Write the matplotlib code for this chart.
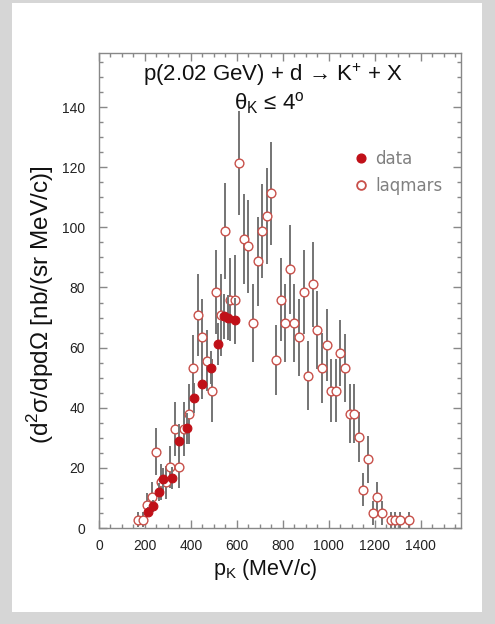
import matplotlib
matplotlib.use("Agg")
import matplotlib.pyplot as plt
from matplotlib.patches import Rectangle
from matplotlib.ticker import MultipleLocator
from matplotlib.lines import Line2D

# laqmars (open circles)
laq_p = [170, 190, 210, 230, 250, 270, 290, 310, 330, 350,
         370, 390, 410, 430, 450, 470, 490, 510, 530, 550,
         570, 590, 610, 630, 650, 670, 690, 710, 730, 750,
         770, 790, 810, 830, 850, 870, 890, 910, 930, 950,
         970, 990, 1010, 1030, 1050, 1070, 1090, 1110, 1130, 1150,
         1170, 1190, 1210, 1230, 1270, 1290, 1310, 1350]
laq_y = [2.7, 2.7, 7.7, 10.2, 25.3, 15.2, 15.2, 20.2, 32.9, 20.2,
         32.9, 38.0, 53.2, 70.9, 63.4, 55.7, 45.6, 78.6, 70.9, 98.8,
         76.0, 76.0, 121.5, 96.2, 93.7, 68.2, 88.7, 98.8, 103.8, 111.3,
         55.8, 76.0, 68.2, 86.0, 68.2, 63.4, 78.6, 50.7, 81.0, 65.8,
         53.2, 60.8, 45.6, 45.6, 58.2, 53.2, 38.0, 38.0, 30.4, 12.7,
         22.9, 5.1, 10.2, 5.1, 2.6, 2.6, 2.6, 2.6]
laq_err = [2.5, 2.5, 4, 5, 7.8, 6, 5.5, 7, 9, 7,
           9, 10, 11, 13.6, 12.8, 10, 10.5, 14, 13.6, 16,
           13.8, 14.7, 17.3, 15, 15.4, 13, 14.7, 15.6, 16, 17,
           11.7, 13.8, 13, 14.7, 13, 12.8, 14, 11.5, 14, 13,
           11.5, 12, 10.5, 10.5, 11, 11.3, 9.8, 9.8, 8.3, 5.5,
           7.8, 4, 5, 4, 2.6, 2.6, 2.6, 2.6]

# measured data (filled circles)
data_p = [212, 236, 262, 280, 317, 349, 381, 413, 449, 486, 519, 545, 560, 590]
data_y = [5.4, 7.3, 11.9, 16.3, 16.7, 29.1, 33.1, 43.2, 47.9, 53.3, 61.2, 70.5, 70.0, 69.1]
data_err = [1.5, 2, 3, 3.5, 3.6, 5.5, 5, 5, 5, 5.5, 7, 7.5, 7.5, 7.5]

plt.rcParams['font.family'] = ['Liberation Sans', 'DejaVu Sans']

fig = plt.figure(figsize=(4.95, 6.24), dpi=100)
fig.patch.set_facecolor('#d6d6d6')
fig.patches.append(Rectangle((12 / 495, 12 / 624), 470 / 495, 609 / 624,
                             transform=fig.transFigure, facecolor='white',
                             edgecolor='none', zorder=-10))

ax = fig.add_axes([99 / 495, 96 / 624, 362 / 495, 475 / 624])
ax.set_facecolor('white')

red_open = '#c8504a'
red_fill = '#c01018'
bar_col = '#747474'

ax.errorbar(laq_p, laq_y, yerr=laq_err, fmt='o', ms=6.3, mfc='white', mec=red_open,
            mew=1.0, ecolor=bar_col, elinewidth=1.4, capsize=0, zorder=3)
ax.errorbar(data_p, data_y, yerr=data_err, fmt='o', ms=6.3, mfc=red_fill, mec=red_fill,
            mew=0.8, ecolor=bar_col, elinewidth=1.4, capsize=0, zorder=4)

ax.set_xlim(0, 1575)
ax.set_ylim(0, 158)
ax.xaxis.set_major_locator(MultipleLocator(200))
ax.xaxis.set_minor_locator(MultipleLocator(50))
ax.yaxis.set_major_locator(MultipleLocator(20))
ax.yaxis.set_minor_locator(MultipleLocator(5))
ax.tick_params(which='both', direction='in', top=True, right=True, colors='#888888',
               labelcolor='#222222', labelsize=10)
ax.tick_params(which='major', length=6, width=1)
ax.tick_params(which='minor', length=3, width=1)
ax.tick_params(axis='x', pad=8)
ax.tick_params(axis='y', pad=10)
for s in ax.spines.values():
    s.set_color('#888888')
    s.set_linewidth(1.0)

ax.set_xlabel(r'p$_\mathregular{K}$ (MeV/c)', fontsize=15.5, color='#111111')
ax.xaxis.set_label_coords(0.459, -0.062)
ax.set_ylabel(r'(d$^\mathregular{2}$σ/dpdΩ [nb/(sr MeV/c)]', fontsize=17.5,
              color='#111111')
ax.yaxis.set_label_coords(-0.118, 0.47)

ax.text(0.48, 0.955, r'p(2.02 GeV) + d → K$^\mathregular{+}$ + X', transform=ax.transAxes,
        ha='center', va='center', fontsize=16, color='#111111')
ax.text(0.47, 0.895, r'θ$_\mathregular{K}$ ≤ 4$^\mathregular{o}$', transform=ax.transAxes,
        ha='center', va='center', fontsize=16, color='#111111')

handles = [Line2D([], [], ls='none', marker='o', ms=6.3, mfc=red_fill, mec=red_fill),
           Line2D([], [], ls='none', marker='o', ms=6.3, mfc='white', mec=red_open, mew=1.3)]
leg = ax.legend(handles, ['data', 'laqmars'], loc='upper left', bbox_to_anchor=(0.696, 0.796),
                frameon=False, borderpad=0, borderaxespad=0, handletextpad=0.25,
                labelspacing=0.55, handlelength=1.2,
                prop={'family': 'DejaVu Sans', 'size': 12})
for t in leg.get_texts():
    t.set_color('#808080')

fig.savefig('out.png', dpi=100, facecolor=fig.get_facecolor())
